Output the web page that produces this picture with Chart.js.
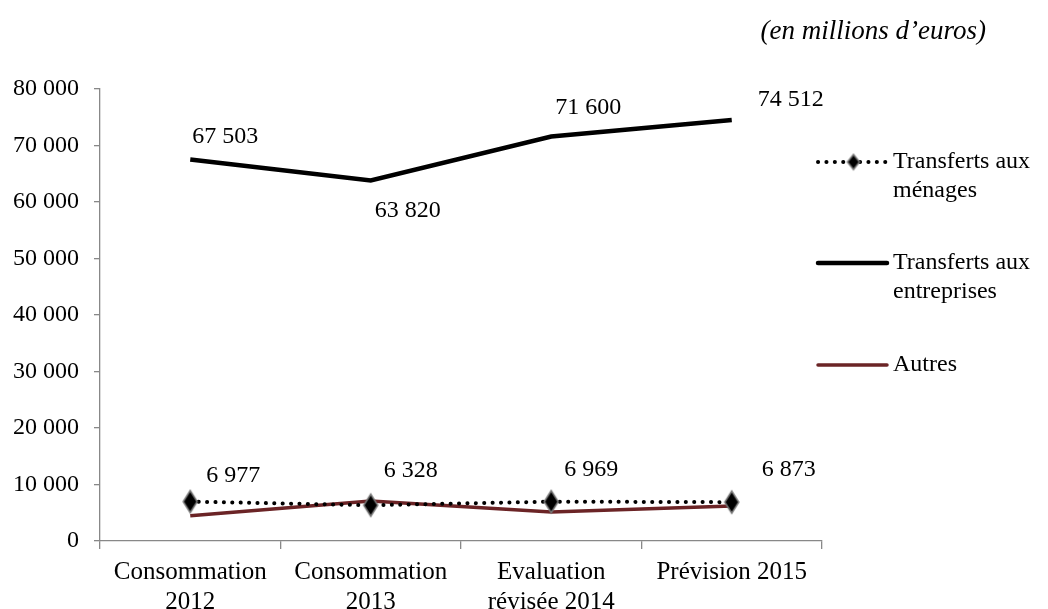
<!DOCTYPE html>
<html>
<head>
<meta charset="utf-8">
<script src="https://cdn.jsdelivr.net/npm/chart.js@4"></script>
<style>
  html, body { margin: 0; padding: 0; background: #fff; }
  #wrap { width: 1048px; height: 609px; position: relative; }
</style>
</head>
<body>
<div id="wrap"><canvas id="c" width="1048" height="609"></canvas></div>
<script>
// Catégories (années) et séries, en millions d'euros
const categories = [
  ['Consommation', '2012'],
  ['Consommation', '2013'],
  ['Evaluation', 'révisée 2014'],
  ['Prévision 2015']
];
const menages = [6977, 6328, 6969, 6873];
const entreprises = [67503, 63820, 71600, 74512];
const autres = [4450, 7100, 5150, 6200];
const seriesNames = [['Transferts aux', 'ménages'], ['Transferts aux', 'entreprises'], ['Autres']];
const yTicks = { min: 0, max: 80000, step: 10000 };

const FONT = '"Liberation Serif", "DejaVu Serif", serif';
const RED = '#6b2426';

function fmt(v) {
  return String(Math.round(v)).replace(/\B(?=(\d{3})+(?!\d))/g, ' ');
}

// Losange allongé pour les points de la série « ménages »
function diamond(w, h) {
  const cv = document.createElement('canvas');
  cv.width = w + 4; cv.height = h + 4;
  const g = cv.getContext('2d');
  const cx = cv.width / 2, cy = cv.height / 2;
  g.beginPath();
  g.moveTo(cx, cy - h / 2);
  g.lineTo(cx + w / 2, cy);
  g.lineTo(cx, cy + h / 2);
  g.lineTo(cx - w / 2, cy);
  g.closePath();
  g.fillStyle = '#000';
  g.fill();
  g.lineWidth = 1.5;
  g.strokeStyle = '#777';
  g.stroke();
  return cv;
}
const marker = diamond(14, 22);
const markerSmall = diamond(12, 15);

// Étiquettes de valeurs : décalages (px) par rapport au point
const labelOffsets = {
  0: [[43, -26], [40, -35], [40, -32], [57, -32]],
  1: [[35, -23], [37, 30], [37, -29], [59, -20]]
};

const overlay = {
  id: 'overlay',
  afterDatasetsDraw(chart) {
    const ctx = chart.ctx;
    ctx.save();
    ctx.font = '24px ' + FONT;
    ctx.fillStyle = '#000';
    ctx.textAlign = 'center';
    ctx.textBaseline = 'middle';
    Object.keys(labelOffsets).forEach(di => {
      const meta = chart.getDatasetMeta(+di);
      const data = chart.data.datasets[di].data;
      meta.data.forEach((pt, i) => {
        const [dx, dy] = labelOffsets[di][i];
        ctx.fillText(fmt(data[i]), pt.x + dx, pt.y + dy);
      });
    });

    // Unité
    ctx.font = 'italic 27px ' + FONT;
    ctx.textAlign = 'right';
    ctx.fillText('(en millions d\u2019euros)', 986, 32);

    // Légende
    const lx0 = 818, lx1 = 887, tx = 893;
    const rows = [162, 263, 365];
    ctx.textAlign = 'left';
    ctx.font = '24px ' + FONT;
    chart.data.datasets.forEach((ds, i) => {
      const y = rows[i];
      ctx.beginPath();
      ctx.moveTo(lx0, y);
      ctx.lineTo(lx1, y);
      ctx.lineWidth = ds.borderWidth;
      ctx.strokeStyle = ds.borderColor;
      ctx.lineCap = 'round';
      ctx.setLineDash(ds.borderDash || []);
      ctx.stroke();
      ctx.setLineDash([]);
      if (i === 0) ctx.drawImage(markerSmall, (lx0 + lx1) / 2 - markerSmall.width / 2 + 1, y - markerSmall.height / 2);
      seriesNames[i].forEach((t, k) => ctx.fillText(t, tx, y + k * 29));
    });
    ctx.restore();
  }
};

new Chart(document.getElementById('c'), {
  type: 'line',
  data: {
    labels: categories,
    datasets: [
      {
        label: seriesNames[0].join(' '),
        data: menages,
        borderColor: '#000',
        borderWidth: 4,
        borderDash: [0.1, 8.3],
        borderCapStyle: 'round',
        pointStyle: marker,
        pointRadius: 8,
        tension: 0,
        order: 0
      },
      {
        label: seriesNames[1].join(' '),
        data: entreprises,
        borderColor: '#000',
        borderWidth: 4.5,
        pointRadius: 0,
        tension: 0
      },
      {
        label: seriesNames[2].join(' '),
        data: autres,
        borderColor: RED,
        borderWidth: 3.5,
        pointRadius: 0,
        tension: 0,
        order: 1
      }
    ]
  },
  options: {
    responsive: false,
    animation: false,
    layout: { padding: { left: 0, right: 226, top: 89, bottom: 0 } },
    plugins: { legend: { display: false }, tooltip: { enabled: false } },
    scales: {
      x: {
        offset: true,
        grid: { offset: true, drawOnChartArea: false, tickLength: 8, color: '#888', lineWidth: 1.3 },
        border: { color: '#888', width: 1.3 },
        ticks: { color: '#000', font: { family: FONT, size: 25, lineHeight: 1.2 }, padding: 8, maxRotation: 0, autoSkip: false },
        afterFit(s) { s.height = 68; }
      },
      y: {
        min: yTicks.min,
        max: yTicks.max,
        grid: { drawOnChartArea: false, tickLength: 6, color: '#888', lineWidth: 1.3 },
        border: { color: '#888', width: 1.3 },
        ticks: { stepSize: yTicks.step, color: '#000', font: { family: FONT, size: 24 }, padding: 15, callback: v => fmt(v) },
        afterFit(s) { s.width = 100; }
      }
    }
  },
  plugins: [overlay]
});
</script>
</body>
</html>
